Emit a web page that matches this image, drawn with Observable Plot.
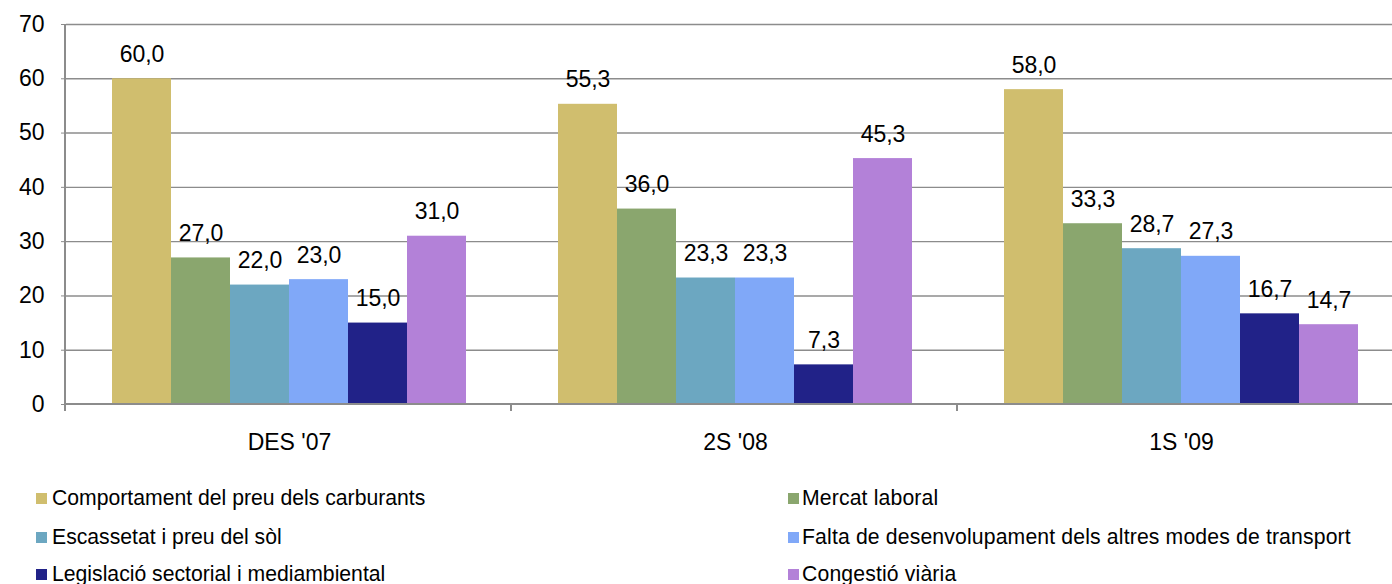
<!DOCTYPE html>
<html>
<head>
<meta charset="utf-8">
<script src="https://cdn.jsdelivr.net/npm/d3@7"></script>
<script src="https://cdn.jsdelivr.net/npm/@observablehq/plot@0.6"></script>
<style>
  html, body { margin: 0; padding: 0; background: #fff; overflow: hidden; }
  #wrap { position: relative; width: 1392px; height: 584px; overflow: hidden; font-family: "Liberation Sans", Arial, sans-serif; }
  #chart { position: absolute; left: 0; top: 0; width: 1405px; }
  .leg { position: absolute; display: flex; align-items: center; white-space: nowrap; font-size: 21.2px; color: #000; }
  .sw { width: 11px; height: 11px; margin-right: 5px; flex: none; }
</style>
</head>
<body>
<div id="wrap"><div id="chart"></div></div>
<script>
const categories = ["DES '07", "2S '08", "1S '09"];
const series = [
  "Comportament del preu dels carburants",
  "Mercat laboral",
  "Escassetat i preu del sòl",
  "Falta de desenvolupament dels altres modes de transport",
  "Legislació sectorial i mediambiental",
  "Congestió viària"
];
const colors = ["#D0BE6E", "#8AA66E", "#6CA7C1", "#80A8F8", "#212288", "#B381D8"];
// values[series][category]
const values = [
  [60.0, 55.3, 58.0],
  [27.0, 36.0, 33.3],
  [22.0, 23.3, 28.7],
  [23.0, 23.3, 27.3],
  [15.0, 7.3, 16.7],
  [31.0, 45.3, 14.7]
];
const yTicks = [0, 10, 20, 30, 40, 50, 60, 70];

const rows = [];
categories.forEach((c, i) => series.forEach((s, j) => rows.push({cat: c, series: s, value: values[j][i]})));
const fmt = v => d3.format(".1f")(v).replace(".", ",");

const chart = Plot.plot({
  width: 1405,
  height: 470,
  marginLeft: 65,
  marginRight: 0,
  marginTop: 24,
  marginBottom: 66,
  style: {fontFamily: '"Liberation Sans", Arial, sans-serif', fontSize: "23px", color: "#000", background: "transparent"},
  fx: {domain: categories, padding: 0, axis: null, label: null},
  x: {domain: series, paddingInner: 0, paddingOuter: 0.752, axis: null},
  y: {domain: [0, 70], axis: null},
  color: {domain: series, range: colors},
  marks: [
    Plot.ruleY(yTicks.slice(1), {stroke: "#8c8c8c", strokeWidth: 1.4}),
    Plot.barY(rows, {fx: "cat", x: "series", y: "value", fill: "series"}),
    Plot.text(rows, {fx: "cat", x: "series", y: "value", text: d => fmt(d.value), lineAnchor: "bottom", dy: -17, fill: "#000"}),
    Plot.axisY({ticks: yTicks, tickSize: 5, tickPadding: 17, stroke: "#8c8c8c", fill: "#000", label: null}),
    Plot.axisFx({anchor: "bottom", tickSize: 0, tickPadding: 29, label: null, fill: "#000"})
  ]
});
chart.style.maxWidth = "none";
chart.style.width = "1405px";
chart.style.height = "470px";
document.getElementById("chart").appendChild(chart);

// axis lines and category separator ticks, positioned from the chart's scales
const ys = chart.scale("y");
const fxs = chart.scale("fx");
const svg = d3.select(chart);
const y0 = ys.apply(0), yTop = ys.apply(70);
const x0 = fxs.range[0], x1 = fxs.range[1];
const g = svg.append("g").attr("stroke", "#8c8c8c").attr("stroke-width", 2);
g.append("line").attr("x1", x0).attr("x2", x1).attr("y1", y0).attr("y2", y0);
g.append("line").attr("x1", x0).attr("x2", x0).attr("y1", yTop).attr("y2", y0 + 7);
categories.forEach((c, i) => {
  if (i === 0) return;
  const x = x0 + i * fxs.step;
  g.append("line").attr("x1", x).attr("x2", x).attr("y1", y0).attr("y2", y0 + 7);
});

// legend
const wrap = document.getElementById("wrap");
const legPos = [
  {x: 36, y: 498, ls: 0}, {x: 788, y: 498, ls: 0.15},
  {x: 36, y: 537, ls: 0}, {x: 788, y: 537, ls: 0.15},
  {x: 36, y: 574, ls: 0}, {x: 788, y: 574, ls: 0.15}
];
series.forEach((s, i) => {
  const p = legPos[i];
  const el = document.createElement("div");
  el.className = "leg";
  el.style.left = p.x + "px";
  el.style.top = (p.y - 12) + "px";
  el.style.height = "24px";
  el.style.letterSpacing = p.ls + "px";
  const sw = document.createElement("div");
  sw.className = "sw";
  sw.style.marginRight = (i % 2 ? 3 : 5) + "px";
  sw.style.background = colors[i];
  const t = document.createElement("span");
  t.textContent = s;
  el.appendChild(sw);
  el.appendChild(t);
  wrap.appendChild(el);
});
</script>
</body>
</html>
